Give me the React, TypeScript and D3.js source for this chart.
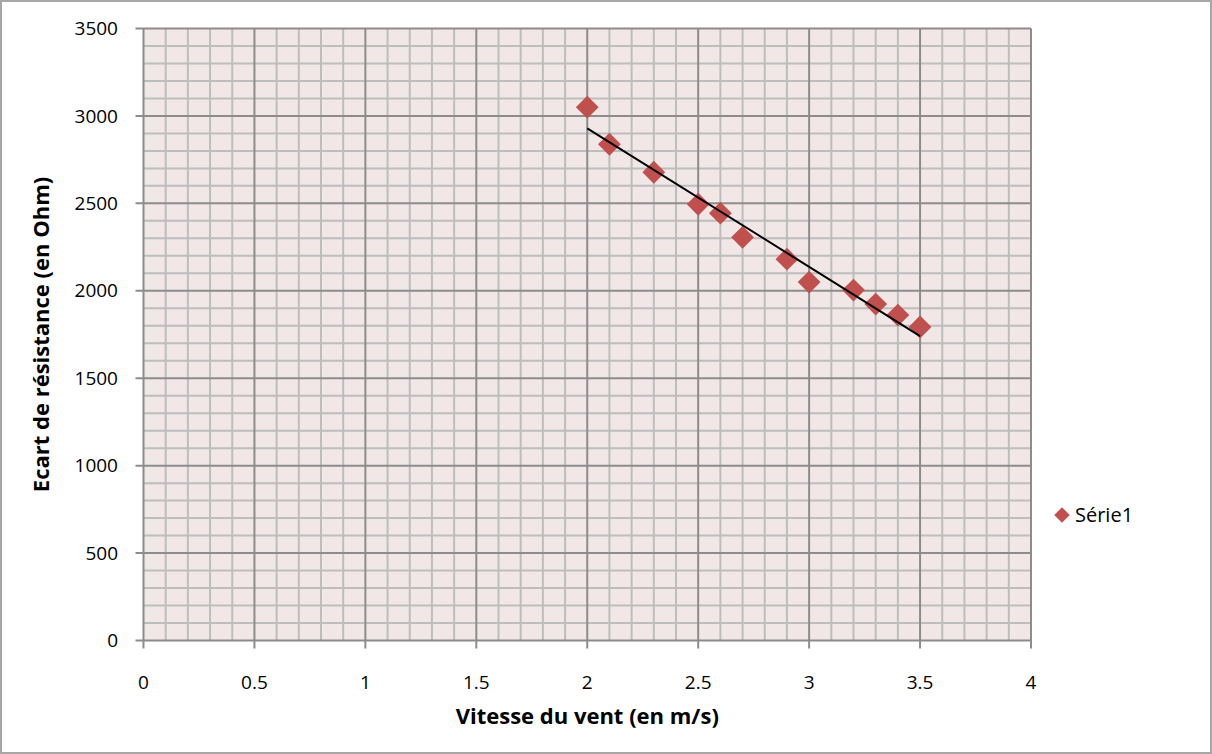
import { useEffect, useRef } from "react";
import * as d3 from "d3";

// vitesse du vent (m/s) et écart de résistance (Ohm)
const vitesse = [2, 2.1, 2.3, 2.5, 2.6, 2.7, 2.9, 3.0, 3.2, 3.3, 3.4, 3.5];
const ecart = [3050, 2838, 2678, 2495, 2444, 2306, 2181, 2050, 2004, 1924, 1861, 1793];
const xTicks = [0, 0.5, 1, 1.5, 2, 2.5, 3, 3.5, 4];
const yTicks = [0, 500, 1000, 1500, 2000, 2500, 3000, 3500];
const serieName = "Série1";

const W = 1212;
const H = 754;
const FONT = "'Open Sans', 'Noto Sans', sans-serif";

export default function App() {
  const ref = useRef<SVGSVGElement | null>(null);

  useEffect(() => {
    const svg = d3.select(ref.current);
    svg.selectAll("*").remove();

    const x = d3.scaleLinear().domain([0, 4]).range([143.5, 1031]);
    const y = d3.scaleLinear().domain([0, 3500]).range([640.5, 28.5]);

    // cadre
    svg
      .append("rect")
      .attr("x", 1)
      .attr("y", 1)
      .attr("width", W - 2)
      .attr("height", H - 2)
      .attr("fill", "#fff")
      .attr("stroke", "#a6a6a6")
      .attr("stroke-width", 2);

    // fond de la zone de tracé
    svg
      .append("rect")
      .attr("x", x(0))
      .attr("y", y(3500))
      .attr("width", x(4) - x(0))
      .attr("height", y(0) - y(3500))
      .attr("fill", "#f2e7e7");

    const g = svg.append("g");

    // quadrillage secondaire
    const minorX = d3.range(0, 4.0001, 0.1).filter((v) => Math.abs(v * 2 - Math.round(v * 2)) > 1e-6);
    const minorY = d3.range(0, 3501, 100).filter((v) => v % 500 !== 0);
    g.selectAll(".mx")
      .data(minorX)
      .enter()
      .append("line")
      .attr("x1", (d) => x(d))
      .attr("x2", (d) => x(d))
      .attr("y1", y(0))
      .attr("y2", y(3500))
      .attr("stroke", "#bdbdbd")
      .attr("stroke-width", 2);
    g.selectAll(".my")
      .data(minorY)
      .enter()
      .append("line")
      .attr("x1", x(0))
      .attr("x2", x(4))
      .attr("y1", (d) => y(d))
      .attr("y2", (d) => y(d))
      .attr("stroke", "#bdbdbd")
      .attr("stroke-width", 2);

    // quadrillage principal
    g.selectAll(".Mx")
      .data(xTicks)
      .enter()
      .append("line")
      .attr("x1", (d) => x(d))
      .attr("x2", (d) => x(d))
      .attr("y1", y(0) + 8)
      .attr("y2", y(3500))
      .attr("stroke", "#8c8c8c")
      .attr("stroke-width", 2);
    g.selectAll(".My")
      .data(yTicks)
      .enter()
      .append("line")
      .attr("x1", x(0) - 8)
      .attr("x2", x(4))
      .attr("y1", (d) => y(d))
      .attr("y2", (d) => y(d))
      .attr("stroke", "#8c8c8c")
      .attr("stroke-width", 2);

    // étiquettes des axes
    g.selectAll(".yl")
      .data(yTicks)
      .enter()
      .append("text")
      .attr("x", 118)
      .attr("y", (d) => y(d))
      .attr("dy", "0.35em")
      .attr("text-anchor", "end")
      .attr("font-family", FONT)
      .attr("font-size", 19)
      .attr("fill", "#000")
      .text((d) => String(d));
    g.selectAll(".xl")
      .data(xTicks)
      .enter()
      .append("text")
      .attr("x", (d) => x(d))
      .attr("y", 682)
      .attr("dy", "0.35em")
      .attr("text-anchor", "middle")
      .attr("font-family", FONT)
      .attr("font-size", 19)
      .attr("fill", "#000")
      .text((d) => String(d));

    svg
      .append("text")
      .attr("x", (x(0) + x(4)) / 2)
      .attr("y", 716)
      .attr("dy", "0.35em")
      .attr("text-anchor", "middle")
      .attr("font-family", FONT)
      .attr("font-size", 22)
      .attr("font-weight", "bold")
      .text("Vitesse du vent (en m/s)");
    svg
      .append("text")
      .attr("transform", `translate(41,${(y(0) + y(3500)) / 2}) rotate(-90)`)
      .attr("dy", "0.35em")
      .attr("text-anchor", "middle")
      .attr("font-family", FONT)
      .attr("font-size", 22)
      .attr("font-weight", "bold")
      .text("Ecart de résistance (en Ohm)");

    // points
    const pts = vitesse.map((v, i) => ({ v, r: ecart[i] }));
    const diamond = d3.symbol().type(d3.symbolSquare).size(260);
    svg
      .append("g")
      .selectAll("path")
      .data(pts)
      .enter()
      .append("path")
      .attr("d", diamond)
      .attr("transform", (d) => `translate(${x(d.v)},${y(d.r)}) rotate(45)`)
      .attr("fill", "#c0504d");

    // droite de régression linéaire
    const mx = d3.mean(vitesse)!;
    const my = d3.mean(ecart)!;
    const slope =
      d3.sum(pts, (d) => (d.v - mx) * (d.r - my)) / d3.sum(pts, (d) => (d.v - mx) ** 2);
    const b = my - slope * mx;
    const xMin = d3.min(vitesse)!;
    const xMax = d3.max(vitesse)!;
    svg
      .append("line")
      .attr("x1", x(xMin))
      .attr("y1", y(slope * xMin + b))
      .attr("x2", x(xMax))
      .attr("y2", y(slope * xMax + b))
      .attr("stroke", "#000")
      .attr("stroke-width", 2);

    // légende
    svg
      .append("path")
      .attr("d", d3.symbol().type(d3.symbolSquare).size(120))
      .attr("transform", "translate(1062,515) rotate(45)")
      .attr("fill", "#c0504d");
    svg
      .append("text")
      .attr("x", 1075)
      .attr("y", 515)
      .attr("dy", "0.35em")
      .attr("font-family", FONT)
      .attr("font-size", 20)
      .text(serieName);
  }, []);

  return (
    <svg
      ref={ref}
      width={W}
      height={H}
      style={{ position: "absolute", left: 0, top: 0 }}
    />
  );
}
